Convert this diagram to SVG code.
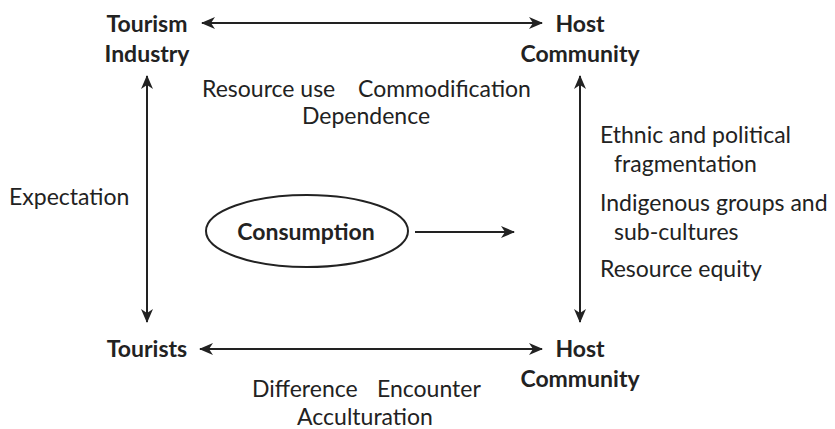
<svg xmlns="http://www.w3.org/2000/svg" width="835" height="429" viewBox="0 0 835 429">
<defs>
<marker id="ah" viewBox="0 0 14 12" refX="13" refY="6" markerWidth="14" markerHeight="12" markerUnits="userSpaceOnUse" orient="auto-start-reverse">
<path d="M0,0 L14,6 L0,12 L4,6 Z" fill="#222"/>
</marker>
<style>
text{font-family:Lato,"Open Sans",sans-serif;fill:#222;font-size:23px}
.b{font-weight:bold;text-anchor:middle}
.ln{stroke:#222;stroke-width:2;fill:none}
</style>
</defs>
<rect width="835" height="429" fill="#fff"/>
<g id="connectors">
<line class="ln" x1="202" y1="23" x2="542" y2="23" marker-start="url(#ah)" marker-end="url(#ah)"/>
<line class="ln" x1="200" y1="349" x2="542" y2="349" marker-start="url(#ah)" marker-end="url(#ah)"/>
<line class="ln" x1="147" y1="76" x2="147" y2="322" marker-start="url(#ah)" marker-end="url(#ah)"/>
<line class="ln" x1="580" y1="76" x2="580" y2="322" marker-start="url(#ah)" marker-end="url(#ah)"/>
<line class="ln" x1="415" y1="232" x2="514" y2="232" marker-end="url(#ah)"/>
</g>
<g id="tourism-industry"><text class="b" x="147" y="32">Tourism</text><text class="b" x="147" y="62">Industry</text></g>
<g id="host-community-top"><text class="b" x="580" y="32">Host</text><text class="b" x="580" y="62">Community</text></g>
<g id="tourists"><text class="b" x="147" y="357">Tourists</text></g>
<g id="host-community-bottom"><text class="b" x="580" y="357">Host</text><text class="b" x="580" y="387">Community</text></g>
<g id="consumption"><ellipse cx="307" cy="231" rx="101" ry="36" class="ln" stroke-width="1.5"/><text class="b" x="306" y="240">Consumption</text></g>
<g id="labels">
<text x="202" y="97">Resource use</text>
<text x="358" y="97">Commodification</text>
<text x="366" y="124" text-anchor="middle">Dependence</text>
<text x="9" y="205">Expectation</text>
<text x="600" y="143">Ethnic and political</text>
<text x="614" y="172">fragmentation</text>
<text x="600" y="211">Indigenous groups and</text>
<text x="614" y="240">sub-cultures</text>
<text x="600" y="277">Resource equity</text>
<text x="252" y="397">Difference</text>
<text x="377" y="397">Encounter</text>
<text x="365" y="425" text-anchor="middle">Acculturation</text>
</g>
</svg>
